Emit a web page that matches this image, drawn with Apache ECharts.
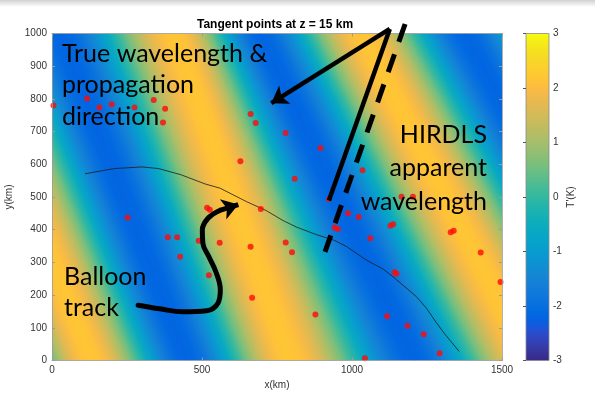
<!DOCTYPE html>
<html>
<head>
<meta charset="utf-8">
<script src="https://cdn.jsdelivr.net/npm/echarts@6/dist/echarts.min.js"></script>
<style>
  html, body { margin: 0; background: #fff; }
  #chart { width: 595px; height: 402px; }
</style>
</head>
<body>
<div id="chart"></div>
<script>
// tangent points (km)
var pointsX = [5, 117, 158, 199, 275, 339, 377, 370, 662, 679, 779, 895, 628, 809, 1035, 1165, 1203,
  987, 1022, 1128, 1137, 1061, 1329, 1339, 1429, 1142, 1148, 1495, 1117, 1185, 1239, 1292, 1043,
  517, 526, 696, 942, 953, 559, 662, 779, 800, 523, 489, 667, 878, 252, 386, 417, 427, 923];
var pointsY = [780, 801, 774, 784, 774, 797, 770, 728, 754, 726, 696, 650, 609, 556, 582, 501, 501,
  450, 439, 412, 417, 374, 392, 397, 330, 270, 265, 240, 135, 106, 80, 22, 7,
  467, 461, 463, 407, 402, 360, 348, 361, 331, 261, 366, 192, 141, 437, 377, 377, 317, 494];

// balloon track (km)
var trackX = [110, 208, 300, 355, 430, 510, 560, 648, 715, 770, 815, 881, 940, 981, 1048, 1103, 1137, 1170, 1215, 1248, 1281, 1310, 1357];
var trackY = [571, 587, 592, 587, 568, 540, 527, 486, 458, 428, 408, 385, 368, 349, 307, 280, 256, 230, 195, 160, 116, 80, 28];

// wave crests / troughs: where each line crosses y = 1000 and y = 0 (km), and its T' (K)
var waveTopX = [-641, -308, 26, 409, 692, 1032, 1376, 1726];
var waveBottomX = [-174, 132, 449, 792, 1209, 1592, 1959, 2326];
var waveValue = [-2.2, 2.2, -2.2, 2.2, -2.2, 2.2, -2.2, 2.2];

// annotation arrows (km)
var trueArrowX = [1126, 731], trueArrowY = [1014, 787];
var hirdlsSolidX = [1126, 923], hirdlsSolidY = [1014, 489];
var hirdlsDashX = [1177, 910], hirdlsDashY = [1029, 332];
var balloonCurveX = [287, 359, 437, 515, 553, 561, 548, 523, 503, 501, 520, 559];
var balloonCurveY = [169, 158, 149, 152, 175, 216, 267, 317, 358, 399, 435, 459];
var balloonHeadX = [559, 621], balloonHeadY = [459, 477];

var xTicks = [0, 500, 1000, 1500];
var colorTicks = [-3, 3];

// parula
var parula = ['#352a87','#363093','#3637a0','#353dad','#3243ba','#2c4ac7','#2053d4','#0f5cdd',
  '#0363e1','#0268e1','#046de0','#0871de','#0d75dc','#1079da','#127dd8','#1481d6',
  '#1485d4','#1389d3','#108ed2','#0c93d2','#0998d1','#079ccf','#06a0cd','#06a4ca',
  '#06a7c6','#07a9c2','#0aacbe','#0faeb9','#15b1b4','#1db3af','#25b5a9','#2eb7a4',
  '#38b99e','#42bb98','#4dbc92','#59bd8c','#65be86','#71bf80','#7cbf7b','#87bf77',
  '#92bf73','#9cbf6f','#a5be6b','#aebe67','#b7bd64','#c0bc60','#c8bc5d','#d1bb59',
  '#d9ba56','#e1b952','#e9b94e','#f1b94a','#f8bb44','#fdbe3d','#ffc337','#fec832',
  '#fcce2e','#fad32a','#f7d826','#f5de21','#f5e41d','#f5eb18','#f6f313','#f9fb0e'];

function hexRgb(h) { return [parseInt(h.substr(1, 2), 16), parseInt(h.substr(3, 2), 16), parseInt(h.substr(5, 2), 16)]; }
function colorAt(v) {
  var t = Math.max(0, Math.min(1, (v - colorTicks[0]) / (colorTicks[1] - colorTicks[0]))) * (parula.length - 1);
  var i = Math.min(Math.floor(t), parula.length - 2), f = t - i;
  var a = hexRgb(parula[i]), b = hexRgb(parula[i + 1]);
  return 'rgb(' + [0, 1, 2].map(function (k) { return Math.round(a[k] + (b[k] - a[k]) * f); }).join(',') + ')';
}

function lerp(p, q, t) { return [p[0] + (q[0] - p[0]) * t, p[1] + (q[1] - p[1]) * t]; }
function unit(p, q) { var dx = q[0] - p[0], dy = q[1] - p[1], l = Math.sqrt(dx * dx + dy * dy); return [dx / l, dy / l]; }

var STRIPS = 60;
function renderBand(params, api) {
  var i = api.value(0);
  var a0 = api.coord([waveTopX[i], 1000]), a1 = api.coord([waveBottomX[i], 0]);
  var b0 = api.coord([waveTopX[i + 1], 1000]), b1 = api.coord([waveBottomX[i + 1], 0]);
  var ua = unit(a0, a1), ub = unit(b0, b1);
  var d = [ua[0] + ub[0], ua[1] + ub[1]], dl = Math.sqrt(d[0] * d[0] + d[1] * d[1]);
  var n = [d[1] / dl, -d[0] / dl];
  var stops = [];
  for (var s = 0; s <= 12; s++) {
    var f = s / 12;
    var v = waveValue[i] + (waveValue[i + 1] - waveValue[i]) * (1 - Math.cos(Math.PI * f)) / 2;
    stops.push({ offset: f, color: colorAt(v) });
  }
  var children = [];
  for (var k = 0; k < STRIPS; k++) {
    var t0 = k / STRIPS - 0.003, t1 = (k + 1) / STRIPS + 0.003, tm = (k + 0.5) / STRIPS;
    var pa0 = lerp(a0, a1, t0), pa1 = lerp(a0, a1, t1), pb0 = lerp(b0, b1, t0), pb1 = lerp(b0, b1, t1);
    var am = lerp(a0, a1, tm), bm = lerp(b0, b1, tm);
    var dist = (bm[0] - am[0]) * n[0] + (bm[1] - am[1]) * n[1];
    children.push({
      type: 'polygon',
      shape: { points: [[pa0[0] - 0.8, pa0[1]], [pa1[0] - 0.8, pa1[1]], [pb1[0] + 0.8, pb1[1]], [pb0[0] + 0.8, pb0[1]]] },
      style: { fill: { type: 'linear', x: am[0], y: am[1], x2: am[0] + n[0] * dist, y2: am[1] + n[1] * dist, global: true, colorStops: stops } }
    });
  }
  return { type: 'group', children: children };
}

function renderColorbar(params, api) {
  var top = api.coord([0, colorTicks[1]]), bot = api.coord([1, colorTicks[0]]);
  var stops = parula.map(function (c, i) { return { offset: 1 - i / (parula.length - 1), color: c }; }).reverse();
  return {
    type: 'rect',
    shape: { x: top[0], y: top[1], width: bot[0] - top[0], height: bot[1] - top[1] },
    style: { fill: { type: 'linear', x: 0, y: 0, x2: 0, y2: 1, colorStops: stops }, stroke: '#8a8a8a', lineWidth: 0.8 }
  };
}

function pairs(xs, ys) { return xs.map(function (x, i) { return [x, ys[i]]; }); }
function plain(v) { return String(v); }

var axisGray = '#9c9c9c';
var labelColor = '#333';
var tickFont = { color: labelColor, fontSize: 10, fontFamily: 'Liberation Sans' };
var noteFont = '25px Lato';

var bandData = [];
for (var b = 0; b < waveTopX.length - 1; b++) bandData.push([b]);

var chart = echarts.init(document.getElementById('chart'));
chart.setOption({
  backgroundColor: '#fff',
  animation: false,
  title: {
    text: 'Tangent points at z = 15 km',
    left: 197, top: 19, padding: 0,
    textStyle: { fontSize: 12, fontWeight: 'bold', fontFamily: 'Liberation Sans', color: '#000' }
  },
  grid: [
    { left: 52, top: 33.5, width: 450, height: 327, outerBoundsMode: 'none', containLabel: false },
    { left: 526, top: 33.5, width: 23, height: 327, outerBoundsMode: 'none', containLabel: false }
  ],
  xAxis: [
    {
      gridIndex: 0, type: 'value', min: xTicks[0], max: xTicks[3], interval: 500, position: 'bottom', z: 5,
      axisLine: { onZero: false, lineStyle: { color: axisGray, width: 0.8 } },
      axisTick: { inside: true, length: 3, lineStyle: { color: axisGray } },
      axisLabel: Object.assign({ margin: 5, formatter: plain }, tickFont),
      splitLine: { show: false },
      name: 'x(km)', nameLocation: 'middle', nameGap: 16, nameTextStyle: tickFont
    },
    {
      gridIndex: 0, type: 'value', min: xTicks[0], max: xTicks[3], interval: 500, position: 'top', z: 5,
      axisLine: { onZero: false, lineStyle: { color: axisGray, width: 0.8 } },
      axisTick: { inside: true, length: 3, lineStyle: { color: axisGray } },
      axisLabel: { show: false }, splitLine: { show: false }
    },
    { gridIndex: 1, type: 'value', min: 0, max: 1, show: false }
  ],
  yAxis: [
    {
      gridIndex: 0, type: 'value', min: 0, max: 1000, interval: 100, position: 'left', z: 5,
      axisLine: { show: true, onZero: false, lineStyle: { color: axisGray, width: 0.8 } },
      axisTick: { show: true, inside: true, length: 3, lineStyle: { color: axisGray } },
      axisLabel: Object.assign({ margin: 5, formatter: plain }, tickFont),
      splitLine: { show: false },
      name: 'y(km)', nameLocation: 'middle', nameGap: 35, nameTextStyle: tickFont
    },
    {
      gridIndex: 0, type: 'value', min: 0, max: 1000, interval: 100, position: 'right', z: 5,
      axisLine: { show: true, onZero: false, lineStyle: { color: axisGray, width: 0.8 } },
      axisTick: { show: true, inside: true, length: 3, lineStyle: { color: axisGray } },
      axisLabel: { show: false }, splitLine: { show: false }
    },
    {
      gridIndex: 1, type: 'value', min: colorTicks[0], max: colorTicks[1], interval: 1, position: 'right', z: 5,
      axisLine: { show: false },
      axisTick: { show: true, inside: true, length: 3, lineStyle: { color: '#555' } },
      axisLabel: Object.assign({ margin: 4, formatter: plain }, tickFont),
      splitLine: { show: false },
      name: "T'(K)", nameLocation: 'middle', nameGap: 16, nameTextStyle: tickFont
    }
  ],
  series: [
    { type: 'custom', name: 'field', xAxisIndex: 0, yAxisIndex: 0, data: bandData, renderItem: renderBand, clip: true, silent: true, z: 1 },
    { type: 'custom', name: 'colorbar', xAxisIndex: 2, yAxisIndex: 2, data: [[0]], renderItem: renderColorbar, silent: true, z: 1 },
    {
      type: 'line', name: 'track', xAxisIndex: 0, yAxisIndex: 0, data: pairs(trackX, trackY),
      symbol: 'none', lineStyle: { color: '#1c1c1c', width: 0.8 }, z: 3
    },
    {
      type: 'scatter', name: 'tangent points', xAxisIndex: 0, yAxisIndex: 0, data: pairs(pointsX, pointsY),
      symbolSize: 6, itemStyle: { color: '#ff0a0a' }, z: 4
    },
    {
      type: 'lines', coordinateSystem: 'cartesian2d', xAxisIndex: 0, yAxisIndex: 0, clip: false, z: 7,
      symbol: ['none', 'arrow'], symbolSize: [12, 16],
      lineStyle: { color: '#000', width: 4.5, opacity: 1 },
      data: [{ coords: pairs(trueArrowX, trueArrowY) }, { coords: pairs(balloonHeadX, balloonHeadY), lineStyle: { width: 5 } }]
    },
    {
      type: 'lines', coordinateSystem: 'cartesian2d', xAxisIndex: 0, yAxisIndex: 0, clip: false, z: 7,
      symbol: 'none', lineStyle: { color: '#000', width: 4.5, opacity: 1 },
      data: [{ coords: pairs(hirdlsSolidX, hirdlsSolidY) }]
    },
    {
      type: 'lines', coordinateSystem: 'cartesian2d', xAxisIndex: 0, yAxisIndex: 0, clip: false, z: 7,
      symbol: 'none', lineStyle: { color: '#000', width: 5, opacity: 1, type: [19, 13] },
      data: [{ coords: pairs(hirdlsDashX, hirdlsDashY) }]
    },
    {
      type: 'line', name: 'balloon arrow', xAxisIndex: 0, yAxisIndex: 0, data: pairs(balloonCurveX, balloonCurveY),
      smooth: 0.4, symbol: 'none', clip: false, lineStyle: { color: '#000', width: 5, cap: 'round' }, z: 7
    }
  ],
  graphic: [
    {
      type: 'rect', left: 0, top: 0, z: 100, silent: true,
      shape: { width: 595, height: 7 },
      style: { fill: { type: 'linear', x: 0, y: 0, x2: 0, y2: 1, colorStops: [{ offset: 0, color: 'rgba(0,0,0,0.18)' }, { offset: 1, color: 'rgba(0,0,0,0)' }] } }
    },
    { type: 'text', x: 62, y: 38, z: 100, style: { text: 'True wavelength &\npropagation\ndirection', font: noteFont, fill: '#000', lineHeight: 31.5, verticalAlign: 'top' } },
    { type: 'text', x: 487, y: 118, z: 100, style: { text: 'HIRDLS\napparent\nwavelength', font: noteFont, fill: '#000', lineHeight: 33.5, align: 'right', verticalAlign: 'top' } },
    { type: 'text', x: 64, y: 261, z: 100, style: { text: 'Balloon\ntrack', font: noteFont, fill: '#000', lineHeight: 31, verticalAlign: 'top' } }
  ]
});
</script>
</body>
</html>
